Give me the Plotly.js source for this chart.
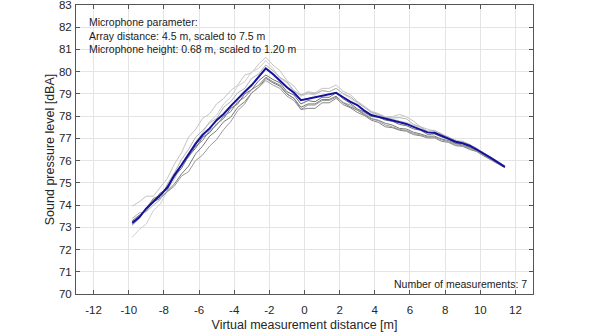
<!DOCTYPE html>
<html>
<head>
<meta charset="utf-8">
<script src="https://cdn.plot.ly/plotly-3.0.1.min.js"></script>
<style>html,body{margin:0;padding:0;background:#fff;}#chart{width:590px;height:334px;}</style>
</head>
<body>
<div id="chart"></div>
<script>
// Virtual measurement distance [m]
const distance = [-9.8,-9.4,-9.0,-8.6,-8.2,-7.8,-7.4,-7.0,-6.6,-6.2,-5.8,-5.4,-5.0,-4.6,-4.2,-3.8,-3.4,-3.0,-2.6,-2.2,-1.8,-1.4,-1.0,-0.6,-0.2,0.2,0.6,1.0,1.4,1.8,2.2,2.6,3.0,3.4,3.8,4.2,4.6,5.0,5.4,5.8,6.2,6.6,7.0,7.4,7.8,8.2,8.6,9.0,9.4,9.8,10.2,10.6,11.0,11.4];

// Individual measurements [dBA]
const meas1 = [73.95,74.15,74.4,74.4,74.8,75.2,75.85,76.35,77.05,77.4,77.9,78.1,78.55,78.8,79.15,79.4,79.85,79.95,80.35,80.65,80.3,80.05,79.6,79.35,78.95,79.1,79.05,79.25,79.25,79.4,79.12,78.97,78.68,78.47,78.22,78.12,77.97,77.98,78.08,77.97,77.78,77.52,77.42,77.32,77.22,77.02,76.92,76.82,76.73,76.51,76.36,76.13,75.96,75.75];
const meas2 = [72.55,72.9,73.15,73.75,74.05,74.65,75.15,75.8,76.25,76.85,77.25,77.75,78.05,78.55,78.85,79.35,79.55,80.0,80.15,80.5,80.15,79.7,79.5,79.1,78.9,79.0,78.95,79.15,79.1,79.25,79.0,78.8,78.6,78.4,78.15,78.05,77.95,77.88,77.78,77.72,77.6,77.47,77.3,77.22,77.05,76.97,76.83,76.76,76.6,76.47,76.28,76.1,75.9,75.72];
const meas3 = [73.3,73.55,73.75,74.15,74.3,74.65,74.95,75.4,75.75,76.3,76.65,77.1,77.35,77.75,77.95,78.4,78.65,79.05,79.3,79.7,79.5,79.35,79.0,78.8,78.4,78.55,78.55,78.75,78.75,78.9,78.6,78.42,78.27,78.07,77.88,77.82,77.68,77.6,77.45,77.42,77.28,77.2,77.1,77.1,76.97,76.9,76.77,76.7,76.58,76.46,76.27,76.08,75.89,75.7];
const meas4 = [73.25,73.5,73.85,74.25,74.35,74.6,74.85,75.3,75.5,76.0,76.25,76.65,76.95,77.4,77.75,78.25,78.55,79.05,79.3,79.6,79.4,79.25,78.9,78.7,78.3,78.5,78.5,78.7,78.7,78.85,78.62,78.5,78.28,78.12,77.9,77.78,77.6,77.52,77.4,77.36,77.22,77.16,77.07,77.06,76.93,76.86,76.72,76.67,76.53,76.42,76.23,76.06,75.86,75.7];
const meas5 = [73.15,73.45,73.85,74.15,74.55,74.7,75.3,75.65,76.2,76.55,77.05,77.25,77.65,77.9,78.35,78.55,79.0,79.2,79.6,79.85,79.65,79.5,79.1,78.95,78.55,78.7,78.65,78.85,78.85,79.05,78.78,78.58,78.33,78.18,77.98,77.96,77.82,77.77,77.63,77.57,77.43,77.37,77.18,77.2,77.07,76.97,76.78,76.77,76.62,76.52,76.29,76.12,75.91,75.72];
const meas6 = [73.4,73.65,73.7,74.0,74.25,74.95,75.45,76.05,76.5,77.05,77.35,77.7,77.9,78.4,78.65,79.05,79.25,79.7,79.9,80.3,80.05,79.75,79.55,79.15,78.95,79.05,79.0,79.15,79.1,79.25,79.02,78.87,78.63,78.42,78.18,78.08,77.93,77.92,77.93,77.88,77.63,77.52,77.33,77.36,77.18,77.07,76.88,76.87,76.7,76.56,76.34,76.16,75.94,75.75];
const meas7 = [73.1,73.4,73.85,74.3,74.45,74.8,75.25,75.8,76.15,76.65,76.9,77.35,77.6,78.0,78.2,78.65,78.85,79.2,79.4,79.75,79.55,79.4,79.0,78.8,78.3,78.35,78.35,78.6,78.6,78.8,78.52,78.38,78.17,78.03,77.82,77.72,77.52,77.48,77.37,77.32,77.17,77.12,77.02,77.02,76.87,76.82,76.67,76.64,76.5,76.41,76.21,76.04,75.84,75.68];

// Mean of the measurements [dBA]
const meanLevel = [73.2,73.45,73.85,74.15,74.45,74.8,75.35,75.8,76.3,76.75,77.15,77.45,77.82,78.1,78.45,78.8,79.1,79.4,79.75,80.15,79.9,79.6,79.3,79.05,78.72,78.78,78.85,78.92,79.0,79.05,78.85,78.65,78.5,78.25,78.05,77.97,77.88,77.8,77.73,77.65,77.52,77.4,77.27,77.25,77.12,76.98,76.85,76.78,76.67,76.5,76.32,76.12,75.92,75.72];

const measurements = [meas1, meas2, meas3, meas4, meas5, meas6, meas7];
const greyShades = ['#c4c4c4', '#cfcfcf', '#7a7a7a', '#9a9a9a', '#6e6e6e', '#b3b3b3', '#868686'];

const xTicks = [-12,-10,-8,-6,-4,-2,0,2,4,6,8,10,12];
const yTicks = [70,71,72,73,74,75,76,77,78,79,80,81,82,83];

const infoLines = ['Microphone parameter:', 'Array distance: 4.5 m, scaled to 7.5 m', 'Microphone height: 0.68 m, scaled to 1.20 m'];
const countLabel = 'Number of measurements: 7';

const traces = measurements.map((m, i) => ({
  x: distance, y: m, type: 'scatter', mode: 'lines',
  line: {color: greyShades[i], width: 1}, hoverinfo: 'skip', showlegend: false
}));
traces.push({
  x: distance, y: meanLevel, type: 'scatter', mode: 'lines',
  line: {color: '#12129e', width: 2}, showlegend: false
});

const fontFam = '"Liberation Sans", Arial, Helvetica, sans-serif';
const axisCommon = {
  showline: true, mirror: 'ticks', linecolor: '#555', linewidth: 1,
  ticks: 'inside', ticklen: 4, tickcolor: '#555', tickwidth: 1,
  showgrid: true, gridcolor: '#e4e4e4', gridwidth: 1, zeroline: false,
  ticklabeloverflow: 'allow',
  tickfont: {family: fontFam, size: 11.5, color: '#262626'}
};

const layout = {
  width: 590, height: 334,
  margin: {l: 76, r: 57, t: 5, b: 40},
  paper_bgcolor: '#fff', plot_bgcolor: '#fff',
  font: {family: fontFam, color: '#262626'},
  xaxis: Object.assign({}, axisCommon, {
    range: [-13, 13], tickvals: xTicks, ticktext: xTicks.map(String),
    ticklabelstandoff: 5,
    title: {text: 'Virtual measurement distance [m]', font: {family: fontFam, size: 12.5, color: '#262626'}, standoff: 5}
  }),
  yaxis: Object.assign({}, axisCommon, {
    range: [70, 83], tickvals: yTicks, ticktext: yTicks.map(String),
    ticklabelstandoff: 1,
    title: {text: 'Sound pressure level [dBA]', font: {family: fontFam, size: 12.5, color: '#262626'}, standoff: 1}
  }),
  annotations: [
    {xref: 'paper', yref: 'paper', x: 0.023, y: 0.968, xanchor: 'left', yanchor: 'top', align: 'left',
     text: infoLines.join('<br>'), showarrow: false, font: {family: fontFam, size: 10.5, color: '#1a1a1a'}},
    {xref: 'paper', yref: 'paper', x: 0.992, y: 0.035, xanchor: 'right', yanchor: 'middle', align: 'right',
     text: countLabel, showarrow: false, font: {family: fontFam, size: 10.5, color: '#1a1a1a'}}
  ]
};

Plotly.newPlot('chart', traces, layout, {displayModeBar: false, staticPlot: true});
</script>
</body>
</html>
